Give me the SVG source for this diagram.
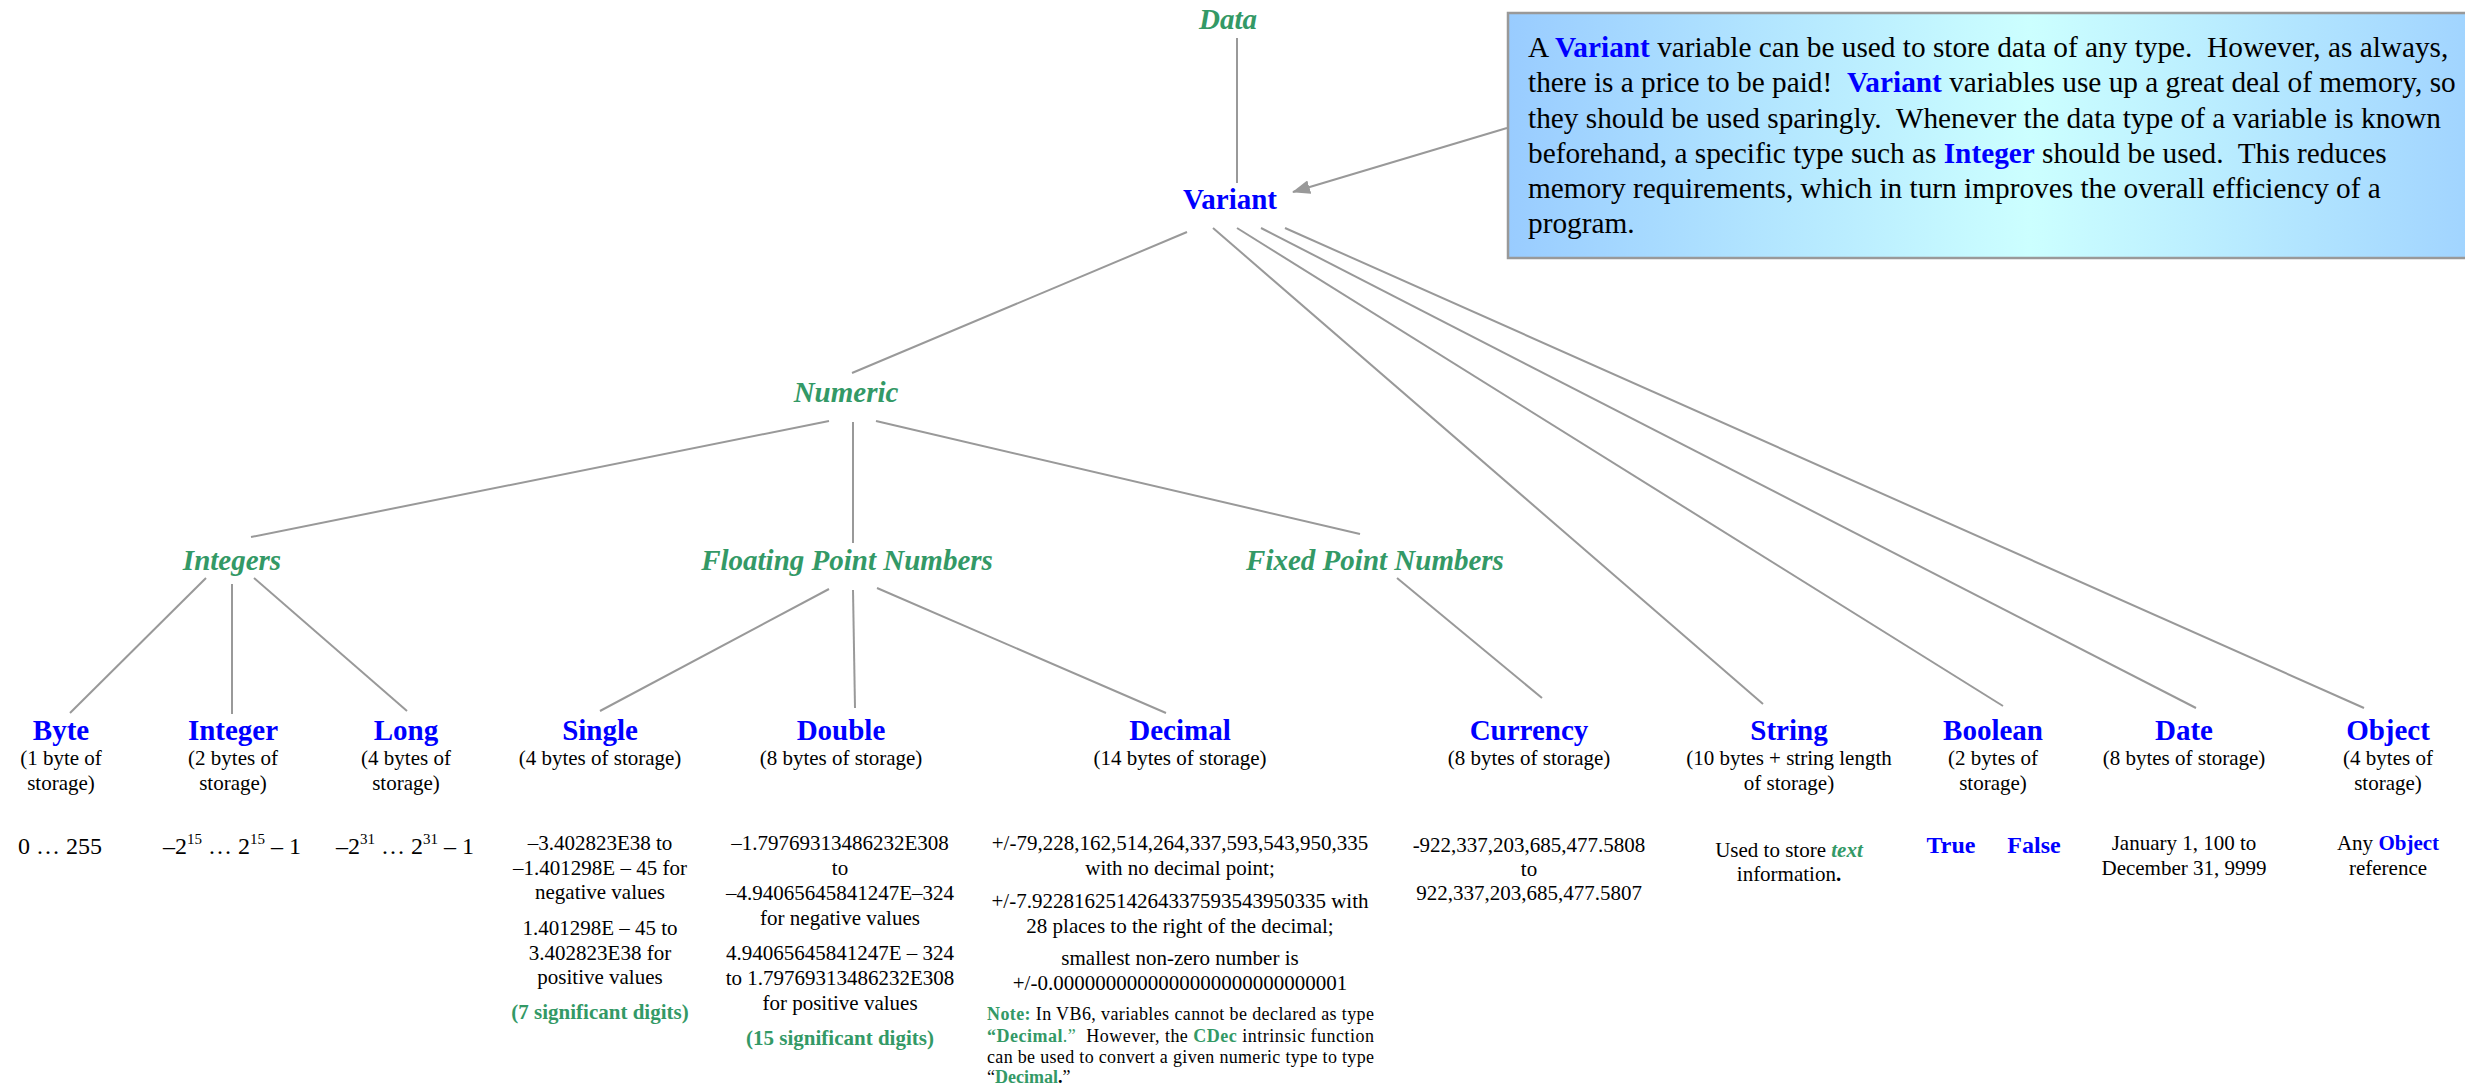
<svg xmlns="http://www.w3.org/2000/svg" width="2465" height="1088" viewBox="0 0 2465 1088">
  <style>
    text { font-family: "Liberation Serif", "Times New Roman", serif; fill: #000; }
    .ln { stroke: #999; stroke-width: 2; fill: none; }
    .cat { font-size: 29px; font-weight: bold; font-style: italic; fill: #339966; text-anchor: middle; }
    .typ { font-size: 29px; font-weight: bold; fill: #0000ff; text-anchor: middle; }
    .val { font-size: 24px; font-weight: bold; fill: #0000ff; text-anchor: middle; }
    .sub { font-size: 21px; text-anchor: middle; }
    .rng { font-size: 24px; text-anchor: middle; }
    .sig { font-size: 21px; font-weight: bold; fill: #339966; text-anchor: middle; }
    .blue { font-weight: bold; fill: #0000ff; }
    .grn { font-weight: bold; fill: #339966; }
    .box { font-size: 29.3px; }
    .note { font-size: 18px; }
  </style>
  <defs>
    <linearGradient id="boxFill" x1="0" y1="0" x2="1" y2="0">
      <stop offset="0" stop-color="#99ccff"/>
      <stop offset="0.5" stop-color="#ccffff"/>
      <stop offset="1" stop-color="#99ccff"/>
    </linearGradient>
    <marker id="arrow" markerWidth="18" markerHeight="14" refX="17" refY="7" orient="auto" markerUnits="userSpaceOnUse">
      <path d="M0,0 L18,7 L0,14 Z" fill="#999"/>
    </marker>
  </defs>

  <!-- tree connectors -->
  <g id="connectors">
    <path class="ln" d="M1237,38 V183"/>
    <path class="ln" d="M1187,232 L852,373"/>
    <path class="ln" d="M1213,228 L1763,704"/>
    <path class="ln" d="M1237,228 L2003,706"/>
    <path class="ln" d="M1261,228 L2196,708"/>
    <path class="ln" d="M1285,228 L2364,708"/>
    <path class="ln" d="M829,421 L251,537"/>
    <path class="ln" d="M853,422 L853,543"/>
    <path class="ln" d="M876,421 L1360,534"/>
    <path class="ln" d="M206,578 L70,713"/>
    <path class="ln" d="M232,584 L232,714"/>
    <path class="ln" d="M254,578 L407,711"/>
    <path class="ln" d="M829,589 L600,711"/>
    <path class="ln" d="M853,590 L855,708"/>
    <path class="ln" d="M877,588 L1166,713"/>
    <path class="ln" d="M1397,578 L1542,698"/>
    <path class="ln" d="M1507,128 L1293,192" marker-end="url(#arrow)"/>
  </g>

  <!-- callout -->
  <g id="callout">
    <rect x="1508" y="13" width="1044" height="245" fill="url(#boxFill)" stroke="#999" stroke-width="2.5"/>
    <text class="box" x="1528" y="57" xml:space="preserve">A <tspan class="blue">Variant</tspan> variable can be used to store data of any type.  However, as always,</text>
    <text class="box" x="1528" y="92.3" xml:space="preserve">there is a price to be paid!  <tspan class="blue">Variant</tspan> variables use up a great deal of memory, so</text>
    <text class="box" x="1528" y="127.6" xml:space="preserve">they should be used sparingly.  Whenever the data type of a variable is known</text>
    <text class="box" x="1528" y="163" xml:space="preserve">beforehand, a specific type such as <tspan class="blue">Integer</tspan> should be used.  This reduces</text>
    <text class="box" x="1528" y="198" xml:space="preserve">memory requirements, which in turn improves the overall efficiency of a</text>
    <text class="box" x="1528" y="233" xml:space="preserve">program.</text>
  </g>

  <!-- hierarchy -->
  <g id="data"><text class="cat" x="1228" y="29">Data</text></g>
  <g id="variant"><text class="typ" x="1230" y="209">Variant</text></g>
  <g id="numeric"><text class="cat" x="846" y="402">Numeric</text></g>
  <g id="integers"><text class="cat" x="232" y="570">Integers</text></g>
  <g id="floating"><text class="cat" x="847" y="570">Floating Point Numbers</text></g>
  <g id="fixed"><text class="cat" x="1375" y="570">Fixed Point Numbers</text></g>

  <!-- data types -->
  <g id="byte">
    <text class="typ" x="61" y="740">Byte</text>
    <text class="sub" x="61" y="765">(1 byte of</text>
    <text class="sub" x="61" y="790">storage)</text>
    <text class="rng" x="60" y="854">0 … 255</text>
  </g>
  <g id="integer">
    <text class="typ" x="233" y="740">Integer</text>
    <text class="sub" x="233" y="765">(2 bytes of</text>
    <text class="sub" x="233" y="790">storage)</text>
    <text class="rng" x="232" y="854">–2<tspan font-size="15" dy="-10">15</tspan><tspan dy="10"> … 2</tspan><tspan font-size="15" dy="-10">15</tspan><tspan dy="10"> – 1</tspan></text>
  </g>
  <g id="long">
    <text class="typ" x="406" y="740">Long</text>
    <text class="sub" x="406" y="765">(4 bytes of</text>
    <text class="sub" x="406" y="790">storage)</text>
    <text class="rng" x="405" y="854">–2<tspan font-size="15" dy="-10">31</tspan><tspan dy="10"> … 2</tspan><tspan font-size="15" dy="-10">31</tspan><tspan dy="10"> – 1</tspan></text>
  </g>
  <g id="single">
    <text class="typ" x="600" y="740">Single</text>
    <text class="sub" x="600" y="765">(4 bytes of storage)</text>
    <text class="sub" x="600" y="850">–3.402823E38 to</text>
    <text class="sub" x="600" y="875">–1.401298E – 45 for</text>
    <text class="sub" x="600" y="899">negative values</text>
    <text class="sub" x="600" y="935">1.401298E – 45 to</text>
    <text class="sub" x="600" y="960">3.402823E38 for</text>
    <text class="sub" x="600" y="984">positive values</text>
    <text class="sig" x="600" y="1019">(7 significant digits)</text>
  </g>
  <g id="double">
    <text class="typ" x="841" y="740">Double</text>
    <text class="sub" x="841" y="765">(8 bytes of storage)</text>
    <text class="sub" x="840" y="850">–1.79769313486232E308</text>
    <text class="sub" x="840" y="875">to</text>
    <text class="sub" x="840" y="900">–4.94065645841247E–324</text>
    <text class="sub" x="840" y="925">for negative values</text>
    <text class="sub" x="840" y="960">4.94065645841247E – 324</text>
    <text class="sub" x="840" y="985">to 1.79769313486232E308</text>
    <text class="sub" x="840" y="1010">for positive values</text>
    <text class="sig" x="840" y="1045">(15 significant digits)</text>
  </g>
  <g id="decimal">
    <text class="typ" x="1180" y="740">Decimal</text>
    <text class="sub" x="1180" y="765">(14 bytes of storage)</text>
    <text class="sub" x="1180" y="850">+/-79,228,162,514,264,337,593,543,950,335</text>
    <text class="sub" x="1180" y="875">with no decimal point;</text>
    <text class="sub" x="1180" y="908">+/-7.9228162514264337593543950335 with</text>
    <text class="sub" x="1180" y="933">28 places to the right of the decimal;</text>
    <text class="sub" x="1180" y="965">smallest non-zero number is</text>
    <text class="sub" x="1180" y="990">+/-0.0000000000000000000000000001</text>
    <text class="note" x="987" y="1020" textLength="387" lengthAdjust="spacing"><tspan class="grn">Note:</tspan> In VB6, variables cannot be declared as type</text>
    <text class="note" x="987" y="1042" textLength="387" lengthAdjust="spacing" xml:space="preserve"><tspan class="grn">“Decimal</tspan><tspan fill="#339966">.”</tspan>  However, the <tspan class="grn">CDec</tspan> intrinsic function</text>
    <text class="note" x="987" y="1063" textLength="387" lengthAdjust="spacing">can be used to convert a given numeric type to type</text>
    <text class="note" x="987" y="1083">“<tspan class="grn">Decimal</tspan><tspan font-weight="bold">.</tspan>”</text>
  </g>
  <g id="currency">
    <text class="typ" x="1529" y="740">Currency</text>
    <text class="sub" x="1529" y="765">(8 bytes of storage)</text>
    <text class="sub" x="1529" y="852">-922,337,203,685,477.5808</text>
    <text class="sub" x="1529" y="876">to</text>
    <text class="sub" x="1529" y="900">922,337,203,685,477.5807</text>
  </g>
  <g id="string">
    <text class="typ" x="1789" y="740">String</text>
    <text class="sub" x="1789" y="765">(10 bytes + string length</text>
    <text class="sub" x="1789" y="790">of storage)</text>
    <text class="sub" x="1789" y="857">Used to store <tspan class="grn" font-style="italic">text</tspan></text>
    <text class="sub" x="1789" y="881">information<tspan font-weight="bold">.</tspan></text>
  </g>
  <g id="boolean">
    <text class="typ" x="1993" y="740">Boolean</text>
    <text class="sub" x="1993" y="765">(2 bytes of</text>
    <text class="sub" x="1993" y="790">storage)</text>
    <text class="val" x="1951" y="853">True</text>
    <text class="val" x="2034" y="853">False</text>
  </g>
  <g id="date">
    <text class="typ" x="2184" y="740">Date</text>
    <text class="sub" x="2184" y="765">(8 bytes of storage)</text>
    <text class="sub" x="2184" y="850">January 1, 100 to</text>
    <text class="sub" x="2184" y="875">December 31, 9999</text>
  </g>
  <g id="object">
    <text class="typ" x="2388" y="740">Object</text>
    <text class="sub" x="2388" y="765">(4 bytes of</text>
    <text class="sub" x="2388" y="790">storage)</text>
    <text class="sub" x="2388" y="850">Any <tspan class="blue">Object</tspan></text>
    <text class="sub" x="2388" y="875">reference</text>
  </g>
</svg>
